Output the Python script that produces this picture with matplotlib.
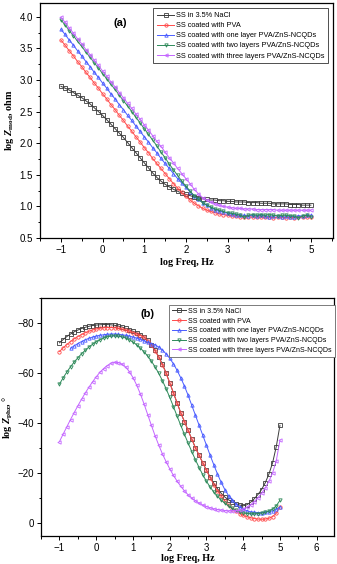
import matplotlib
matplotlib.use("Agg")
import matplotlib.pyplot as plt
from matplotlib.ticker import MultipleLocator, FormatStrFormatter

plt.rcParams['font.family'] = ['Liberation Sans', 'DejaVu Sans']
plt.rcParams['mathtext.fontset'] = 'custom'
plt.rcParams['mathtext.rm'] = 'Liberation Serif:bold'
plt.rcParams['mathtext.it'] = 'Liberation Serif:bold:italic'
plt.rcParams['mathtext.bf'] = 'Liberation Serif:bold'

# log frequency grid (Hz)
log_freq = [-1.0, -0.9, -0.8, -0.7, -0.6, -0.5, -0.4, -0.3, -0.2, -0.1,
            0.0, 0.1, 0.2, 0.3, 0.4, 0.5, 0.6, 0.7, 0.8, 0.9,
            1.0, 1.1, 1.2, 1.3, 1.4, 1.5, 1.6, 1.7, 1.8, 1.9,
            2.0, 2.1, 2.2, 2.3, 2.4, 2.5, 2.6, 2.7, 2.8, 2.9,
            3.0, 3.1, 3.2, 3.3, 3.4, 3.5, 3.6, 3.7, 3.8, 3.9,
            4.0, 4.1, 4.2, 4.3, 4.4, 4.5, 4.6, 4.7, 4.8, 4.9, 5.0]

labels = ["SS in 3.5% NaCl",
          "SS coated with PVA",
          "SS coated with one layer PVA/ZnS-NCQDs",
          "SS coated with two layers PVA/ZnS-NCQDs",
          "SS coated with three layers PVA/ZnS-NCQDs"]

# (a) log |Z|
zmod_nacl = [2.90, 2.87, 2.84, 2.80, 2.76, 2.72, 2.67, 2.62, 2.56, 2.50,
             2.44, 2.37, 2.30, 2.23, 2.16, 2.09, 2.01, 1.93, 1.85, 1.77,
             1.69, 1.61, 1.53, 1.46, 1.40, 1.35, 1.31, 1.27, 1.24, 1.21,
             1.19, 1.17, 1.15, 1.14, 1.12, 1.11, 1.10, 1.10, 1.09, 1.09,
             1.08, 1.08, 1.07, 1.07, 1.07, 1.06, 1.06, 1.06, 1.05, 1.05,
             1.05, 1.04, 1.04, 1.04, 1.04, 1.03, 1.03, 1.03, 1.02, 1.02, 1.02]
zmod_pva = [3.63, 3.55, 3.46, 3.38, 3.29, 3.21, 3.12, 3.04, 2.95, 2.87,
            2.78, 2.70, 2.61, 2.53, 2.44, 2.36, 2.27, 2.19, 2.10, 2.02,
            1.93, 1.85, 1.76, 1.68, 1.60, 1.52, 1.44, 1.36, 1.29, 1.22,
            1.16, 1.10, 1.05, 1.01, 0.97, 0.94, 0.92, 0.90, 0.88, 0.87,
            0.86, 0.85, 0.85, 0.84, 0.84, 0.84, 0.83, 0.83, 0.83, 0.83,
            0.83, 0.82, 0.83, 0.83, 0.82, 0.83, 0.82, 0.83, 0.83, 0.83, 0.84]
zmod_one = [3.80, 3.72, 3.63, 3.55, 3.46, 3.38, 3.29, 3.21, 3.12, 3.04,
            2.95, 2.87, 2.78, 2.70, 2.61, 2.53, 2.44, 2.36, 2.27, 2.19,
            2.10, 2.02, 1.93, 1.85, 1.76, 1.68, 1.60, 1.52, 1.44, 1.37,
            1.30, 1.23, 1.17, 1.11, 1.06, 1.02, 0.98, 0.95, 0.93, 0.91,
            0.89, 0.88, 0.87, 0.86, 0.86, 0.85, 0.86, 0.85, 0.86, 0.85,
            0.84, 0.85, 0.85, 0.84, 0.85, 0.84, 0.84, 0.85, 0.85, 0.86, 0.86]
zmod_two = [3.95, 3.87, 3.78, 3.70, 3.61, 3.53, 3.44, 3.36, 3.27, 3.19,
            3.10, 3.02, 2.93, 2.85, 2.76, 2.67, 2.59, 2.50, 2.41, 2.32,
            2.23, 2.14, 2.05, 1.96, 1.86, 1.77, 1.67, 1.58, 1.49, 1.40,
            1.32, 1.24, 1.17, 1.11, 1.06, 1.02, 0.99, 0.96, 0.94, 0.92,
            0.90, 0.89, 0.88, 0.86, 0.83, 0.86, 0.87, 0.86, 0.87, 0.86,
            0.87, 0.86, 0.85, 0.86, 0.86, 0.85, 0.85, 0.82, 0.85, 0.86, 0.84]
zmod_three = [3.99, 3.91, 3.82, 3.74, 3.65, 3.57, 3.48, 3.40, 3.31, 3.23,
              3.14, 3.06, 2.97, 2.89, 2.80, 2.72, 2.63, 2.55, 2.46, 2.38,
              2.29, 2.21, 2.12, 2.03, 1.95, 1.86, 1.77, 1.69, 1.60, 1.52,
              1.44, 1.36, 1.27, 1.20, 1.14, 1.10, 1.07, 1.04, 1.02, 1.00,
              0.99, 0.98, 0.97, 0.97, 0.96, 0.96, 0.96, 0.95, 0.95, 0.95,
              0.95, 0.95, 0.94, 0.94, 0.94, 0.94, 0.94, 0.94, 0.94, 0.94, 0.94]

# (b) phase angle
phz_nacl = [-72.0, -73.3, -74.5, -75.5, -76.4, -77.1, -77.7, -78.2, -78.6, -78.9,
            -79.1, -79.2, -79.3, -79.3, -79.2, -79.0, -78.7, -78.3, -77.8, -77.2,
            -76.6, -75.9, -75.2, -74.4, -73.0, -71.2, -69.0, -66.5, -63.5, -60.0,
            -56.0, -52.0, -48.0, -44.0, -40.5, -37.0, -33.5, -30.0, -27.0, -24.0,
            -21.0, -18.3, -15.8, -13.6, -11.8, -10.3, -9.2, -8.3, -7.6, -7.1,
            -6.8, -7.2, -8.2, -9.6, -11.3, -13.3, -16.0, -19.5, -24.0, -30.5, -39.0]
phz_pva = [-68.5, -70.0, -71.3, -72.5, -73.6, -74.5, -75.3, -76.0, -76.6, -77.1,
           -77.5, -77.8, -78.0, -78.1, -78.1, -78.0, -77.8, -77.5, -77.1, -76.6,
           -76.1, -75.5, -74.9, -74.2, -72.8, -71.0, -68.8, -66.3, -63.3, -59.8,
           -56.0, -52.0, -48.0, -44.0, -40.5, -37.0, -33.5, -30.0, -27.0, -24.0,
           -21.0, -18.0, -15.3, -12.8, -10.6, -8.7, -7.1, -5.7, -4.6, -3.7,
           -3.0, -2.4, -2.0, -1.7, -1.5, -1.4, -1.5, -1.8, -2.5, -3.8, -6.5]
log_freq_one_b = log_freq[3:]
phz_one = [-69.8, -70.8, -71.7, -72.5, -73.2, -73.8, -74.3,
           -74.7, -75.0, -75.2, -75.4, -75.5, -75.5, -75.4, -75.2, -75.0, -74.7,
           -74.3, -73.9, -73.4, -72.8, -72.2, -71.7, -71.2, -70.3, -69.1, -67.6,
           -65.8, -63.6, -61.0, -58.0, -54.7, -51.0, -47.0, -43.0, -39.0, -35.0,
           -31.0, -27.0, -23.2, -19.5, -16.2, -13.3, -10.9, -9.0, -7.5, -6.3,
           -5.4, -4.8, -4.4, -4.2, -4.1, -4.1, -4.2, -4.4, -4.8, -5.4, -6.3]
phz_two = [-55.5, -58.0, -60.3, -62.4, -64.3, -66.0, -67.6, -69.0, -70.3, -71.4,
           -72.4, -73.2, -73.9, -74.4, -74.7, -74.8, -74.7, -74.4, -73.9, -73.2,
           -72.3, -71.2, -69.9, -68.4, -66.7, -64.7, -62.4, -59.8, -56.9, -53.7,
           -50.2, -46.5, -42.7, -39.0, -35.4, -31.9, -28.5, -25.2, -22.1, -19.2,
           -16.6, -14.3, -12.3, -10.6, -9.1, -7.8, -6.7, -5.8, -5.0, -4.4,
           -4.0, -3.7, -3.6, -3.6, -3.7, -3.9, -4.2, -4.7, -5.5, -6.8, -9.0]
phz_three = [-32.5, -35.5, -38.4, -41.3, -44.1, -46.8, -49.4, -51.9, -54.2, -56.4,
             -58.4, -60.2, -61.7, -62.9, -63.8, -64.2, -64.1, -63.5, -62.3, -60.5,
             -58.1, -55.1, -51.6, -47.6, -43.3, -39.0, -34.9, -31.1, -27.6, -24.5,
             -21.6, -19.0, -16.7, -14.6, -12.8, -11.2, -9.9, -8.8, -7.9, -7.1,
             -6.5, -6.0, -5.6, -5.3, -5.1, -4.9, -4.8, -4.8, -4.9, -5.1,
             -5.5, -6.2, -7.2, -8.5, -10.0, -11.8, -14.0, -16.6, -20.0, -24.8, -33.0]

colors = ['#3c3c3c', '#ff4a4a', '#4a5cff', '#2e8a5a', '#c466ff']
markers = ['s', 'o', '^', 'v', '<']

fig = plt.figure(figsize=(3.37, 5.64), dpi=100)
ax1 = fig.add_axes([0.119, 0.578, 0.869, 0.417])
ax2 = fig.add_axes([0.122, 0.050, 0.869, 0.422])

zmod = [zmod_nacl, zmod_pva, zmod_one, zmod_two, zmod_three]
for y, c, m, lab in zip(zmod, colors, markers, labels):
    ax1.plot(log_freq, y, color=c, marker=m, markersize=2.4, mfc='none',
             mew=0.6, lw=0.7, label=lab)

phz_x = [log_freq, log_freq, log_freq_one_b, log_freq, log_freq]
phz = [phz_nacl, phz_pva, phz_one, phz_two, phz_three]
for x, y, c, m, lab in zip(phz_x, phz, colors, markers, labels):
    ax2.plot(x, y, color=c, marker=m, markersize=2.4, mfc='none',
             mew=0.6, lw=0.7, label=lab)

lab_kw = dict(fontsize=7.3, fontweight='bold', family='Liberation Serif')

ax1.set_xlim(-1.5, 5.53)
ax1.set_ylim(0.5, 4.22)
ax1.xaxis.set_major_locator(MultipleLocator(1))
ax1.xaxis.set_minor_locator(MultipleLocator(0.5))
ax1.yaxis.set_major_locator(MultipleLocator(0.5))
ax1.yaxis.set_minor_locator(MultipleLocator(0.25))
ax1.yaxis.set_major_formatter(FormatStrFormatter('%.1f'))
ax1.set_xlabel('log Freq, Hz', labelpad=2, **lab_kw)
ax1.set_ylabel(r'log $Z_{\rm mod}$, ohm', **lab_kw)
ax1.yaxis.set_label_coords(-0.082, 0.5)
ax1.text(0.273, 0.915, '(a)', transform=ax1.transAxes, fontsize=8,
         fontweight='bold', ha='center', va='center')

ax2.set_xlim(-1.5, 6.47)
ax2.set_ylim(5.2, -90)
ax2.xaxis.set_major_locator(MultipleLocator(1))
ax2.xaxis.set_minor_locator(MultipleLocator(0.5))
ax2.yaxis.set_major_locator(MultipleLocator(20))
ax2.yaxis.set_minor_locator(MultipleLocator(10))
ax2.set_xlabel('log Freq, Hz', labelpad=1, **lab_kw)
ax2.set_ylabel(r'log $Z_{\rm phz}$, °', **lab_kw)
ax2.yaxis.set_label_coords(-0.088, 0.5)
ax2.text(0.362, 0.93, '(b)', transform=ax2.transAxes, fontsize=8,
         fontweight='bold', ha='center', va='center')

for ax in (ax1, ax2):
    ax.tick_params(which='both', direction='out', top=False, right=False,
                   labelsize=7, width=0.7, pad=2)
    ax.tick_params(which='major', length=3)
    ax.tick_params(which='minor', length=1.8)
    for s in ax.spines.values():
        s.set_linewidth(0.9)

leg1 = ax1.legend(bbox_to_anchor=(0.382, 0.983), loc='upper left',
                  fontsize=5.3, handlelength=2.3, labelspacing=0.4,
                  borderpad=0.5, handletextpad=0.3, borderaxespad=0.2,
                  fancybox=False, framealpha=1)
leg1.get_frame().set_edgecolor('#333333')
leg1.get_frame().set_linewidth(0.6)
leg2 = ax2.legend(bbox_to_anchor=(0.437, 0.971), loc='upper left',
                  fontsize=5.0, handlelength=2.0, labelspacing=0.4,
                  borderpad=0.45, handletextpad=0.3, borderaxespad=0.0,
                  fancybox=False, framealpha=1)
leg2.get_frame().set_edgecolor('#666666')
leg2.get_frame().set_linewidth(0.6)

fig.savefig('out.png', dpi=100)
